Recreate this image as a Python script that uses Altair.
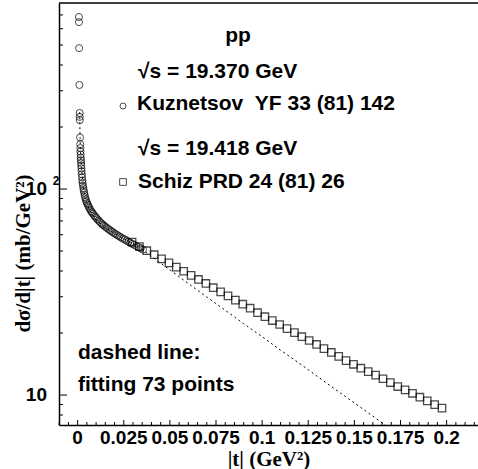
import altair as alt
import pandas as pd

# ---------------- data ----------------
kuz_t = [0.00070, 0.00072, 0.00080, 0.00095, 0.00110, 0.00113, 0.00116, 0.00130,
         0.00140, 0.00148, 0.00155, 0.00162, 0.00170, 0.00178, 0.00186, 0.00195,
         0.00205, 0.00215, 0.00228, 0.00240, 0.00255, 0.00270, 0.00290, 0.00310,
         0.00330, 0.00355, 0.00380, 0.00410, 0.00440, 0.00475, 0.00510, 0.00550,
         0.00590, 0.00630, 0.00680, 0.00730, 0.00780, 0.00830, 0.00890, 0.00950,
         0.01010, 0.01070, 0.01140, 0.01210, 0.01280, 0.01350, 0.01420, 0.01500,
         0.01580, 0.01660, 0.01740, 0.01820, 0.01900, 0.01990, 0.02080, 0.02170,
         0.02260, 0.02350, 0.02450, 0.02550, 0.02650, 0.02750, 0.02850, 0.02960,
         0.03070, 0.03180, 0.03300, 0.03420, 0.03540]
kuz_v = [684, 646, 483, 320, 234, 224, 216, 178,
         165, 158, 152, 147, 142, 138, 134, 130,
         126, 122, 118, 114, 110, 107, 104, 101,
         98.5, 96, 93.5, 91, 89, 87, 85.5, 84,
         82.5, 81, 79.5, 78, 77, 76, 74.5, 73.5,
         72.5, 71.3, 70.3, 69.2, 68.2, 67.3, 66.6, 65.6,
         64.8, 64.0, 63.2, 62.5, 61.8, 61.0, 60.3, 59.6,
         58.9, 58.2, 57.5, 56.9, 56.2, 55.6, 54.9, 54.2,
         53.6, 52.9, 52.2, 51.5, 50.8]

schiz_t = [0.0295, 0.0335, 0.0375, 0.0415, 0.0455, 0.0495, 0.0535, 0.0575, 0.0615,
           0.0655, 0.0695, 0.0735, 0.0775, 0.0815, 0.0855, 0.0895, 0.0935, 0.0975,
           0.1015, 0.1055, 0.1095, 0.1135, 0.1175, 0.1215, 0.1255, 0.1295, 0.1335,
           0.1375, 0.1415, 0.1455, 0.1495, 0.1535, 0.1575, 0.1615, 0.1655, 0.1695,
           0.1735, 0.1775, 0.1815, 0.1855, 0.1895, 0.1935, 0.1975]
schiz_v = [55.3, 52.6, 50.2, 48.0, 45.8, 43.8, 41.8, 39.9, 38.1,
           36.4, 34.8, 33.2, 31.7, 30.3, 28.9, 27.6, 26.4, 25.1,
           24.0, 23.0, 22.0, 21.0, 20.1, 19.2, 18.4, 17.6, 16.8,
           16.1, 15.4, 14.7, 14.1, 13.5, 13.0, 12.5, 12.0, 11.5,
           11.0, 10.6, 10.2, 9.76, 9.37, 8.99, 8.64]

fit_t = [0.00110, 0.0013, 0.0015, 0.0020, 0.0030, 0.0040, 0.0060, 0.0080, 0.0100,
         0.0150, 0.0200, 0.0250, 0.0320, 0.0400, 0.0500, 0.0600, 0.0700, 0.0800,
         0.0900, 0.1000, 0.1100, 0.1200, 0.1300, 0.1400, 0.1500, 0.1600, 0.1700]
fit_v = [236, 180, 155, 129, 103, 91, 81, 75, 71,
         65, 61, 57.3, 53.2, 47.1, 40.5, 34.8, 29.9, 25.8,
         22.2, 19.2, 16.5, 14.3, 12.3, 10.6, 9.16, 7.90, 6.80]

x_major = [0, 0.025, 0.05, 0.075, 0.1, 0.125, 0.15, 0.175, 0.2]
x_labels = ["0", "0.025", "0.05", "0.075", "0.1", "0.125", "0.15", "0.175", "0.2"]
x_minor = [-0.01, -0.005, 0.005, 0.01, 0.015, 0.02, 0.03, 0.035, 0.04, 0.045,
           0.055, 0.06, 0.065, 0.07, 0.08, 0.085, 0.09, 0.095, 0.105, 0.11,
           0.115, 0.12, 0.13, 0.135, 0.14, 0.145, 0.155, 0.16, 0.165, 0.17,
           0.18, 0.185, 0.19, 0.195, 0.205, 0.21, 0.215]
y_major = [10, 100]
y_labels = ["10", "10"]
y_minor = [8, 9, 20, 30, 40, 50, 60, 70, 80, 90, 200, 300, 400, 500, 600, 700]

# ---------------- scales / styles ----------------
W, H = 419, 422
xs = alt.Scale(domain=[-0.0101, 0.2170], nice=False, zero=False)
ys = alt.Scale(type="log", domain=[7.155, 800], nice=False)
SANS = "Liberation Sans"
SERIF = "Liberation Serif"

kuz = pd.DataFrame({"t": kuz_t, "v": kuz_v})
schiz = pd.DataFrame({"t": schiz_t, "v": schiz_v})
fit = pd.DataFrame({"t": fit_t, "v": fit_v})

xaxis = alt.Axis(values=x_major, labels=False,
                 title="|t| (GeV²)", titleY=40, titleBaseline="alphabetic")
yaxis = alt.Axis(values=y_major, labels=False,
                 title="dσ/d|t| (mb/GeV²)", titleX=-30, titleY=250,
                 titleBaseline="alphabetic", titleAngle=270)

X = lambda f: alt.X(f, scale=xs, axis=xaxis)
Y = lambda f: alt.Y(f, scale=ys, axis=yaxis)

circles = alt.Chart(kuz).mark_point(shape="circle", filled=False, size=50,
                                    color="black", strokeWidth=1).encode(
    x=X("t:Q"), y=Y("v:Q"))

squares = alt.Chart(schiz).mark_point(shape="square", filled=False, size=55,
                                      color="black", strokeWidth=1.3).encode(
    x=X("t:Q"), y=Y("v:Q"))

fitline = alt.Chart(fit).mark_line(color="black", strokeWidth=1, strokeDash=[2, 3],
                                   clip=True).encode(
    x=X("t:Q"), y=Y("v:Q"))

def rules_x(vals, length):
    return alt.Chart(pd.DataFrame({"t": vals})).mark_rule(color="black", strokeWidth=1).encode(
        x=X("t:Q"), y=alt.value(H), y2=alt.value(H - length))

def rules_y(vals, length):
    return alt.Chart(pd.DataFrame({"v": vals})).mark_rule(color="black", strokeWidth=1).encode(
        y=Y("v:Q"), x=alt.value(0), x2=alt.value(length))

xlab = alt.Chart(pd.DataFrame({"t": x_major, "s": x_labels})).mark_text(
    font=SANS, fontWeight="bold", fontSize=19, align="center", baseline="alphabetic",
    color="black").encode(x=X("t:Q"), y=alt.value(H + 19), text="s:N")

ylab = alt.Chart(pd.DataFrame({"v": y_major, "s": y_labels})).mark_text(
    font=SANS, fontWeight="bold", fontSize=19, align="right", baseline="middle",
    color="black").encode(y=Y("v:Q"), x=alt.value(-12), text="s:N")

top_line = alt.Chart(alt.Data(values=[{}])).mark_rule(color="black", strokeWidth=1.5).encode(
    x=alt.value(0), x2=alt.value(W), y=alt.value(0))

sup2 = alt.Chart(pd.DataFrame({"v": [100]})).mark_text(
    font=SANS, fontWeight="bold", fontSize=12, align="center", baseline="middle",
    dy=-8, color="black").encode(
    y=Y("v:Q"), x=alt.value(-3), text=alt.value("2"))

def label(txt, x, y, align="left", size=21):
    return alt.Chart(alt.Data(values=[{}])).mark_text(
        font=SANS, fontWeight="bold", fontSize=size, align=align,
        baseline="alphabetic", color="black").encode(
        x=alt.value(x), y=alt.value(y), text=alt.value(txt))

def marker(shape, x, y, size):
    return alt.Chart(alt.Data(values=[{}])).mark_point(
        shape=shape, filled=False, size=size, color="black", strokeWidth=1).encode(
        x=alt.value(x), y=alt.value(y))

chart = alt.layer(
    circles, fitline, squares,
    rules_x(x_major, 5), rules_x(x_minor, 3),
    rules_y(y_major, 8), rules_y(y_minor, 4),
    xlab, ylab, top_line, sup2,
    label("pp", 179, 39, align="center"),
    label("√s = 19.370 GeV", 79, 75),
    marker("circle", 64, 103, 36),
    label("Kuznetsov\u00a0\u00a0YF 33 (81) 142", 78, 107),
    label("√s = 19.418 GeV", 79, 152),
    marker("square", 64, 179, 45),
    label("Schiz PRD 24 (81) 26", 79, 185),
    label("dashed line:", 19, 356),
    label("fitting 73 points", 19, 388),
).properties(
    width=W, height=H,
    padding={"left": 59, "top": 3, "right": 0, "bottom": 44},
    autosize=alt.AutoSizeParams(type="none"),
    background="white",
).configure_view(stroke=None).configure_axis(
    ticks=False, tickSize=0, grid=False,
    domainColor="black", domainWidth=1.5,
    titleFont=SERIF, titleFontWeight="bold", titleFontSize=21, titleColor="black",
)

chart.save("out.html", embed_options={"renderer": "svg", "actions": False})
